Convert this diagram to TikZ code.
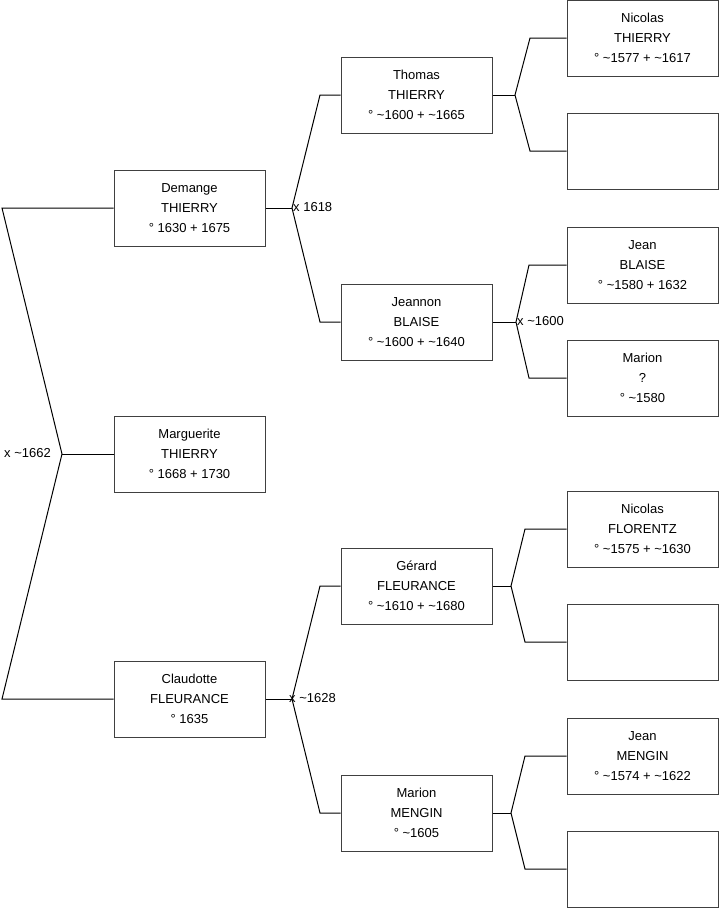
\documentclass[tikz,border=0pt]{standalone}
\usepackage{fontspec}
\setmainfont{Liberation Sans}
\newcommand\tld{\textasciitilde}
\begin{document}
\begin{tikzpicture}[x=1pt,y=-1pt,
  person/.style={draw=black!75, line width=1pt, minimum width=151pt, minimum height=76pt,
    align=center, inner sep=0pt, font=\fontsize{13}{20}\selectfont},
  link/.style={draw=black, line width=1pt},
  mlabel/.style={font=\fontsize{13}{16}\selectfont, inner sep=0pt}]
\useasboundingbox (0,0) rectangle (719,908);

% generation 1
\node[person] (dem) at (189.5,208) {Demange\\THIERRY\\° 1630 + 1675};
\node[person] (mar) at (189.5,454) {Marguerite\\THIERRY\\° 1668 + 1730};
\node[person] (cla) at (189.5,699) {Claudotte\\FLEURANCE\\° 1635};

% generation 2
\node[person] (tho) at (416.5,95) {Thomas\\THIERRY\\° \tld1600 + \tld1665};
\node[person] (jea) at (416.5,322) {Jeannon\\BLAISE\\° \tld1600 + \tld1640};
\node[person] (ger) at (416.5,586) {Gérard\\FLEURANCE\\° \tld1610 + \tld1680};
\node[person] (mam) at (416.5,813) {Marion\\MENGIN\\° \tld1605};

% generation 3
\node[person] (nth) at (642.5,38) {Nicolas\\THIERRY\\° \tld1577 + \tld1617};
\node[person] (e1) at (642.5,151) {};
\node[person] (jbl) at (642.5,265) {Jean\\BLAISE\\° \tld1580 + 1632};
\node[person] (mqu) at (642.5,378) {Marion\\?\\° \tld1580};
\node[person] (nfl) at (642.5,529) {Nicolas\\FLORENTZ\\° \tld1575 + \tld1630};
\node[person] (e2) at (642.5,642) {};
\node[person] (jme) at (642.5,756) {Jean\\MENGIN\\° \tld1574 + \tld1622};
\node[person] (e3) at (642.5,869) {};

% connector points
\coordinate (a1) at (2,208);
\coordinate (j1) at (62,454);
\coordinate (a2) at (2,699);

\coordinate (j2) at (292,208);
\coordinate (b1) at (320,95);
\coordinate (b2) at (320,322);

\coordinate (j3) at (292,699);
\coordinate (b3) at (320,586);
\coordinate (b4) at (320,813);

\coordinate (j4) at (515,95);
\coordinate (c1) at (530,38);
\coordinate (c2) at (530,151);

\coordinate (j5) at (516,322);
\coordinate (c3) at (529,265);
\coordinate (c4) at (529,378);

\coordinate (j6) at (511,586);
\coordinate (c5) at (525,529);
\coordinate (c6) at (525,642);

\coordinate (j7) at (511,813);
\coordinate (c7) at (525,756);
\coordinate (c8) at (525,869);

% connectors
\draw[link] (dem.west) -- (a1) -- (j1) -- (a2) -- (cla.west);
\draw[link] (j1) -- (mar.west);

\draw[link] (dem.east) -- (j2);
\draw[link] (tho.west) -- (b1) -- (j2) -- (b2) -- (jea.west);

\draw[link] (cla.east) -- (j3);
\draw[link] (ger.west) -- (b3) -- (j3) -- (b4) -- (mam.west);

\draw[link] (tho.east) -- (j4);
\draw[link] (nth.west) -- (c1) -- (j4) -- (c2) -- (e1.west);

\draw[link] (jea.east) -- (j5);
\draw[link] (jbl.west) -- (c3) -- (j5) -- (c4) -- (mqu.west);

\draw[link] (ger.east) -- (j6);
\draw[link] (nfl.west) -- (c5) -- (j6) -- (c6) -- (e2.west);

\draw[link] (mam.east) -- (j7);
\draw[link] (jme.west) -- (c7) -- (j7) -- (c8) -- (e3.west);

% marriage labels
\node[mlabel, anchor=east] (m1) at (51,453) {x \tld1662};
\node[mlabel, anchor=west] (m2) at (293,207) {x 1618};
\node[mlabel, anchor=west] (m3) at (517,321) {x \tld1600};
\node[mlabel, anchor=west] (m4) at (289,698) {x \tld1628};
\end{tikzpicture}
\end{document}
